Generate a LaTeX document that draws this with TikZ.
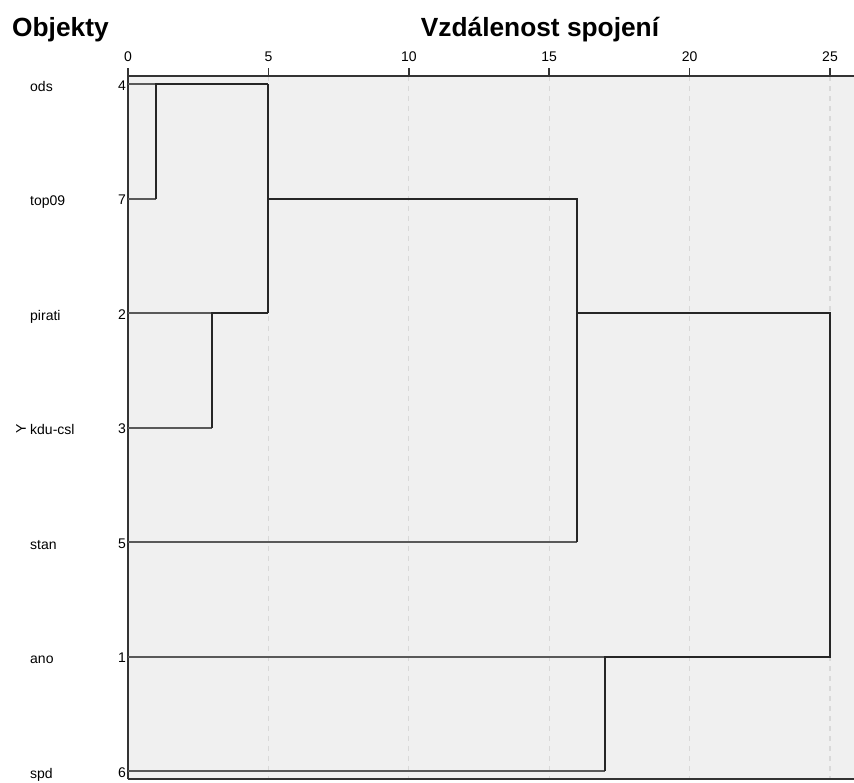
\documentclass[tikz,border=0pt]{standalone}
\usepackage{fontspec}
\setmainfont{Liberation Sans}
\usetikzlibrary{positioning}

\begin{document}
\begin{tikzpicture}[
  x=1pt, y=-1pt,
  lbl/.style={font=\fontsize{14}{16}\selectfont, anchor=base west, inner sep=0pt},
  idx/.style={font=\fontsize{14}{16}\selectfont, anchor=base east, inner sep=0pt},
  tick/.style={font=\fontsize{14}{16}\selectfont, inner sep=0pt},
  ttl/.style={font=\bfseries\fontsize{26.3}{29}\selectfont, inner sep=0pt},
  leaf/.style={draw=black!65, line width=2pt},
  link/.style={draw=black!85, line width=2pt},
  gridline/.style={draw=black!15, line width=1.3pt, dash pattern=on 5pt off 5pt},
  frame/.style={draw=black!80, line width=1.6pt}
]
\useasboundingbox (0,0) rectangle (854,782);
\fill[black!6] (128,76) rectangle (854,779);

% titles
\node[ttl, anchor=base west] (head) at (12,36) {Objekty};
\node[ttl, anchor=base] (axis) at (540,36) {Vzdálenost spojení};

% scale and grid
\foreach \t in {0,5,...,25} {
  \coordinate (t\t) at (128+28.08*\t,76);
  \draw[frame] (t\t) -- ++(0,-8);
  \node[tick] (tl\t) at (128+28.08*\t,57) {\t};
}
\foreach \t in {5,10,...,25}
  \draw[gridline] (t\t) -- (128+28.08*\t,779);
\draw[frame] (128,76) -- (854,76);
\draw[frame] (128,76) -- (128,779);
\draw[frame] (128,779) -- (854,779);

% objects
\foreach \name/\num/\row in {ods/4/84, top09/7/198.5, pirati/2/313, kdu-csl/3/427.5,
                             stan/5/542, ano/1/656.5, spd/6/771} {
  \node[lbl] (n\num) at (30,\row+7) {\name};
  \node[idx] (i\num) at (126,\row+6) {\num};
  \coordinate (l\num) at (128,\row);
}
\node[tick, rotate=90] (yy) at (21,429) {Y};

% junctions
\coordinate (j47a) at (156,84);
\coordinate (j47b) at (156,198.5);
\coordinate (j23a) at (212,313);
\coordinate (j23b) at (212,427.5);
\coordinate (j2347a) at (268,84);
\coordinate (j2347m) at (268,198.5);
\coordinate (j2347b) at (268,313);
\coordinate (j5a) at (577,198.5);
\coordinate (j5m) at (577,313);
\coordinate (j5b) at (577,542);
\coordinate (j16a) at (605,656.5);
\coordinate (j16b) at (605,771);
\coordinate (jtopa) at (830,313);
\coordinate (jtopb) at (830,656.5);

\draw[leaf] (l4) -- (j47a);
\draw[leaf] (l7) -- (j47b);
\draw[leaf] (l2) -- (j23a);
\draw[leaf] (l3) -- (j23b);
\draw[leaf] (l5) -- (j5b);
\draw[leaf] (l1) -- (j16a);
\draw[leaf] (l6) -- (j16b);

\draw[link] (j47b) -- (j47a) -- (j2347a);
\draw[link] (j23b) -- (j23a) -- (j2347b);
\draw[link] (j2347a) -- (j2347b);
\draw[link] (j2347m) -- (j5a) -- (j5b);
\draw[link] (j16b) -- (j16a) -- (jtopb) -- (jtopa) -- (j5m);
\end{tikzpicture}
\end{document}
